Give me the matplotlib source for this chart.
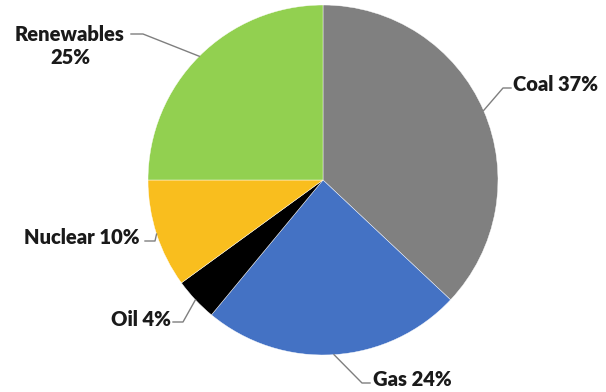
import numpy as np
import matplotlib.pyplot as plt

labels = ["Coal", "Gas", "Oil", "Nuclear", "Renewables"]
shares = [37, 24, 4, 10, 25]
colors = ["#808080", "#4472C4", "#000000", "#F9BE1E", "#92D050"]

# label layout in pixel units (y up): text anchor, elbow point, alignment
label_pos = {
    "Coal": ((513, 308), (503, 304), "left"),
    "Gas": ((373, 12), (362, 9), "left"),
    "Oil": ((171, 72), (183, 70), "right"),
    "Nuclear": ((140, 155), (155, 151), "right"),
    "Renewables": ((70, 346), (143, 358), "center"),
}

plt.rcParams["font.family"] = ["Lato", "DejaVu Sans"]
fig = plt.figure(figsize=(6.06, 3.92), dpi=100)
ax = fig.add_axes([0, 0, 1, 1])

cx, cy, r = 323, 212, 175
wedges, _ = ax.pie(shares, colors=colors, startangle=90, counterclock=False,
                   center=(cx, cy), radius=r, frame=True,
                   wedgeprops=dict(edgecolor="white", linewidth=0.3))
ax.set_xlim(0, 606)
ax.set_ylim(0, 392)
ax.set_aspect("equal")
ax.axis("off")

fs = 14.5
for w, name, val in zip(wedges, labels, shares):
    mid = np.deg2rad((w.theta1 + w.theta2) / 2)
    ex, ey = cx + r * np.cos(mid), cy + r * np.sin(mid)
    (tx, ty), (bx, by), ha = label_pos[name]
    if ha == "center":
        ax.text(tx, ty, f"{name}\n{val}%", ha="center", va="center", fontsize=fs,
                fontweight="heavy", linespacing=1.3, color="#1a1a1a")
        sx = bx - 12
    elif ha == "left":
        ax.text(tx, ty, f"{name} {val}%", ha="left", va="center",
                fontsize=fs, fontweight="heavy", color="#1a1a1a")
        sx = bx + 8
    else:
        ax.text(tx, ty, f"{name} {val}%", ha="right", va="center",
                fontsize=fs, fontweight="heavy", color="#1a1a1a")
        sx = bx - 10
    ax.plot([sx, bx, ex], [by, by, ey], color="#7f7f7f", lw=1)

fig.savefig("out.png", dpi=100)
